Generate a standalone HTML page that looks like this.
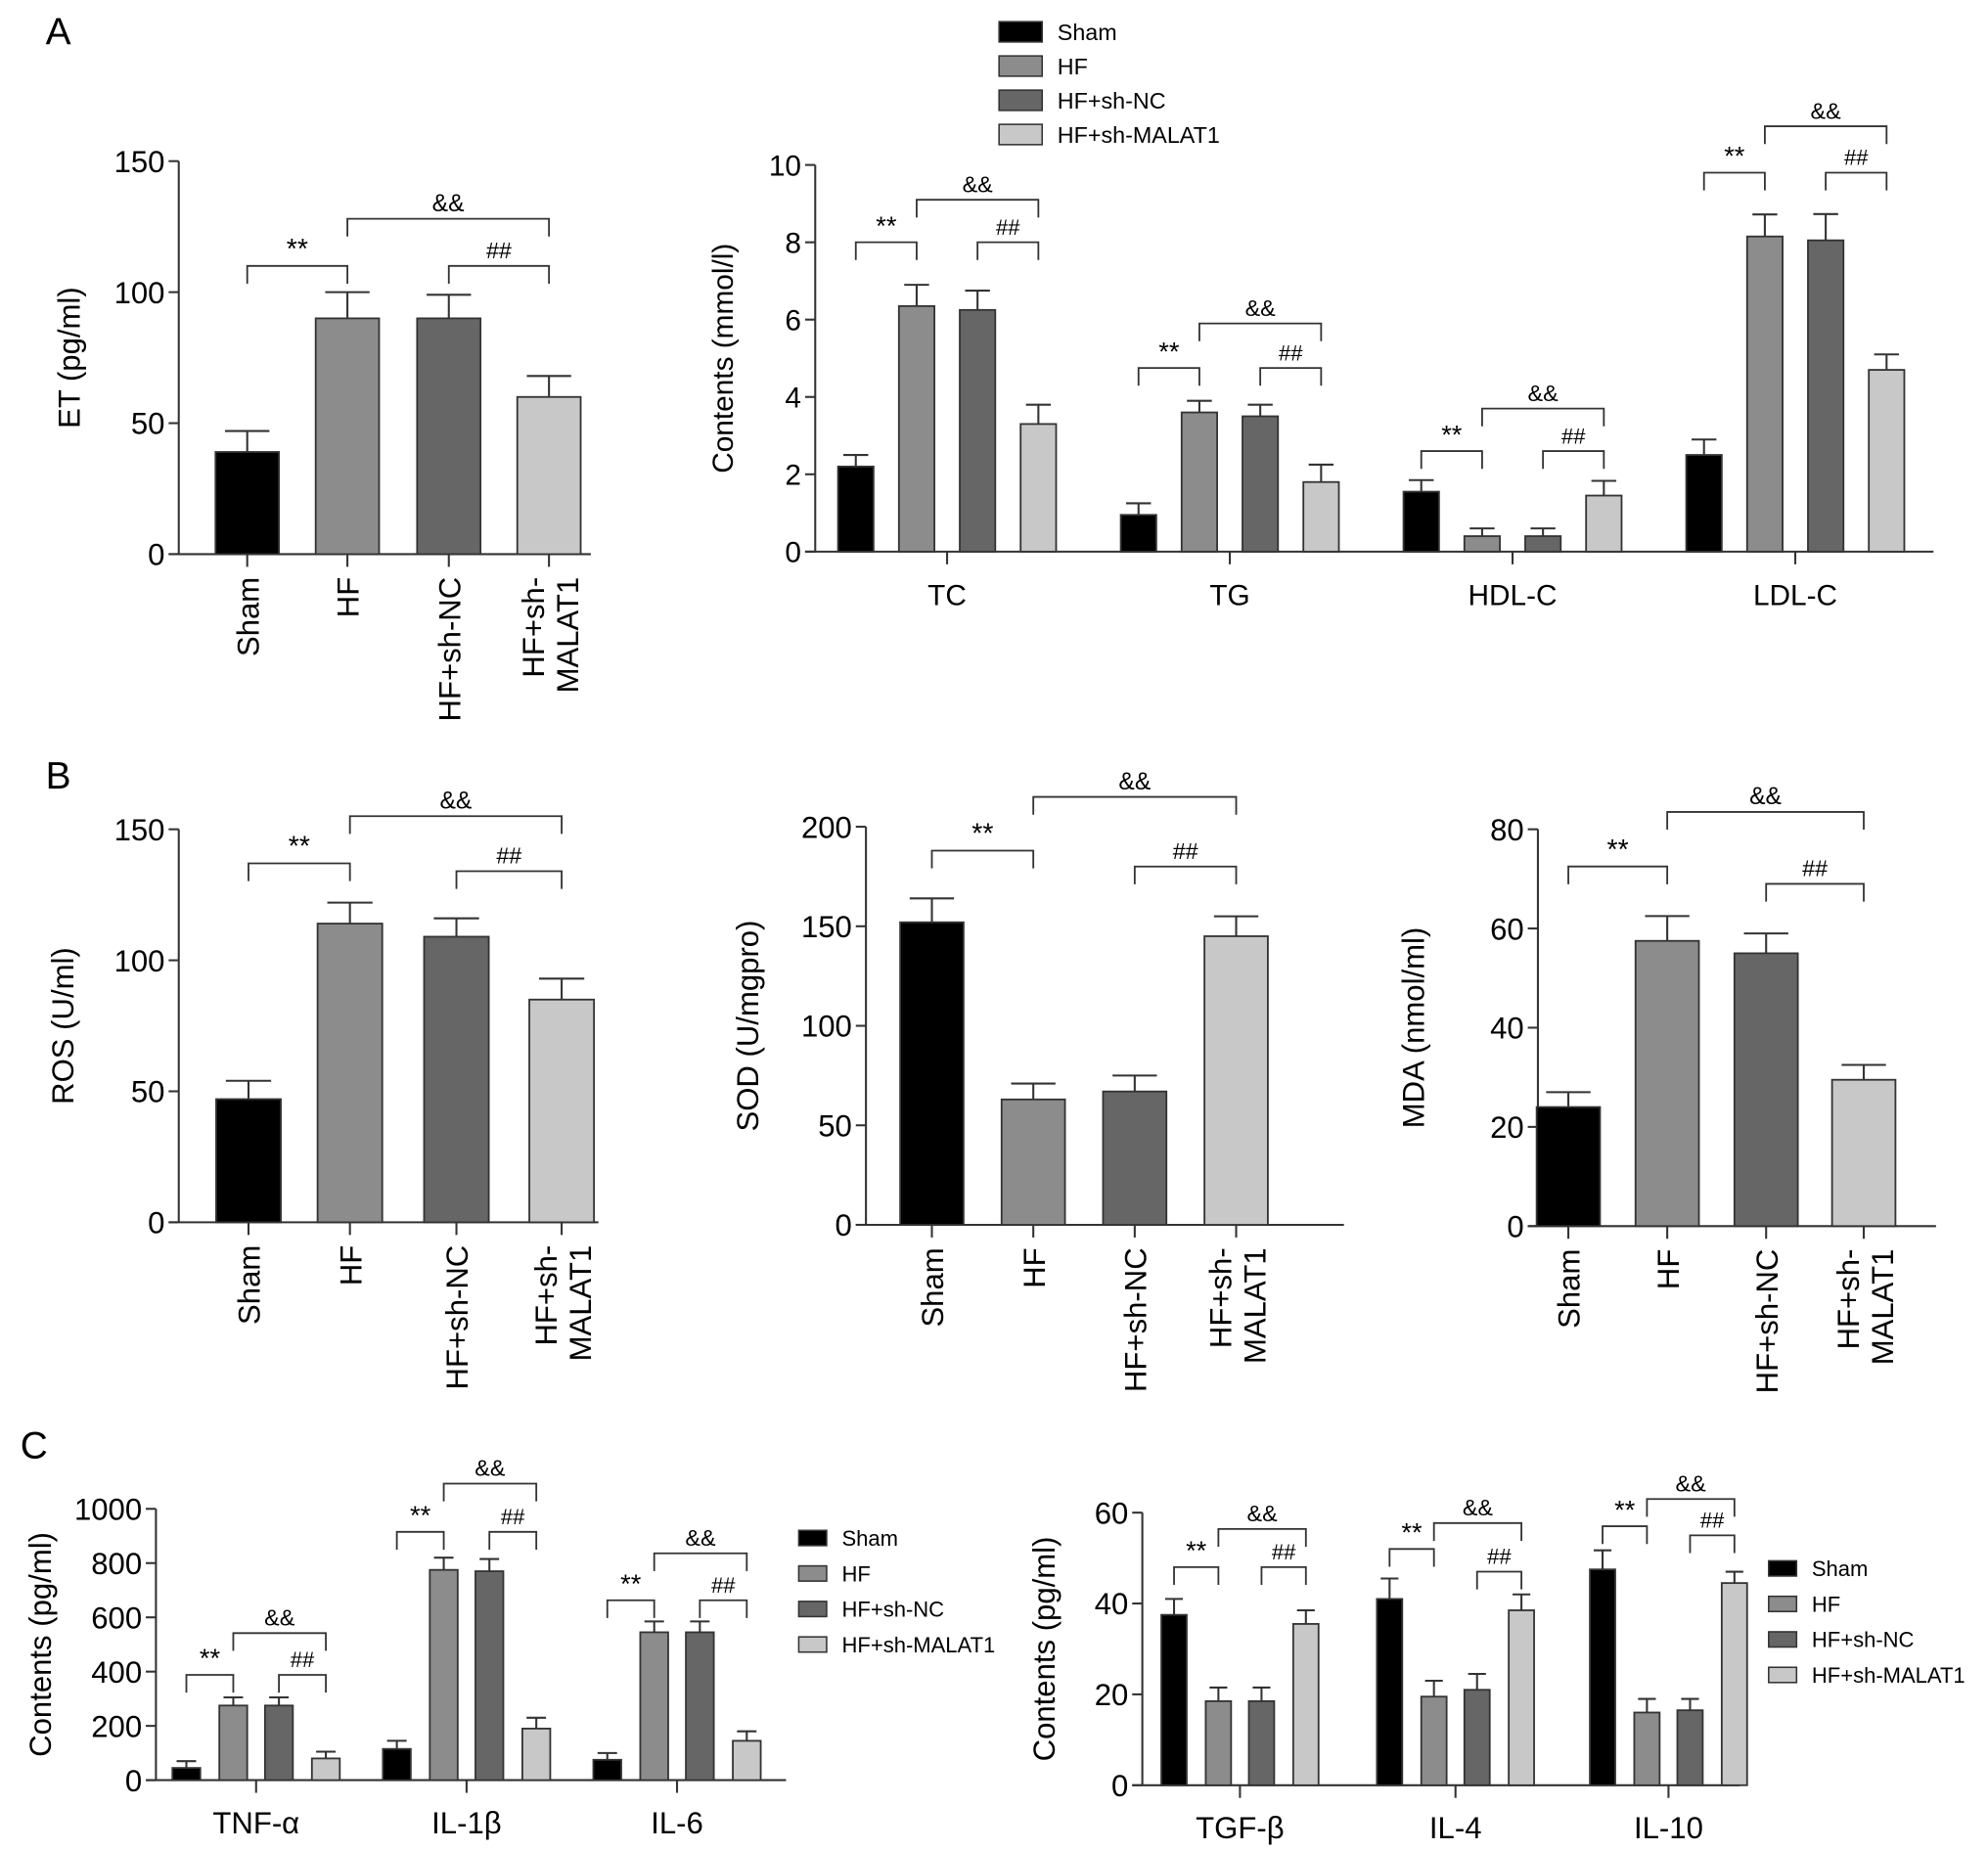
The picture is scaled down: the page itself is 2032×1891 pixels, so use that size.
<!DOCTYPE html>
<html><head><meta charset="utf-8"><style>
html,body{margin:0;padding:0;background:#fff}
svg{display:block;font-family:"Liberation Sans",Arial,sans-serif}
</style></head><body>
<svg id="fig" width="2032" height="1891" viewBox="0 0 1568 1459" xmlns="http://www.w3.org/2000/svg">
<text x="36" y="35" font-size="30">A</text>
<text x="36" y="622" font-size="30">B</text>
<text x="16" y="1150" font-size="30">C</text>
</svg>
<script>
// ---- data ----
const groupNames = ["Sham","HF","HF+sh-NC","HF+sh-MALAT1"];
const etValues = [39,90,90,60];
const etErrors = [8,10,9,8];
const lipidCats = ["TC","TG","HDL-C","LDL-C"];
const lipidSham = [2.2,0.95,1.55,2.5];
const lipidHF = [6.35,3.6,0.4,8.15];
const lipidNC = [6.25,3.5,0.4,8.05];
const lipidMAL = [3.3,1.8,1.45,4.7];
const lipidShamErr = [0.3,0.3,0.3,0.4];
const lipidHFErr = [0.55,0.3,0.2,0.57];
const lipidNCErr = [0.5,0.3,0.2,0.68];
const lipidMALErr = [0.5,0.45,0.38,0.4];
const lipidSig1 = [8.0,4.75,2.6,9.8];
const lipidSigHash = [8.0,4.75,2.6,9.8];
const lipidSig2 = [9.1,5.9,3.7,11.0];
const rosValues = [47,114,109,85];
const rosErrors = [7,8,7,8];
const sodValues = [152,63,67,145];
const sodErrors = [12,8,8,10];
const mdaValues = [24,57.5,55,29.5];
const mdaErrors = [3,5,4,3];
const cytoCats1 = ["TNF-α","IL-1β","IL-6"];
const cyto1Sham = [45,115,75];
const cyto1HF = [275,775,545];
const cyto1NC = [275,770,545];
const cyto1MAL = [80,190,145];
const cyto1ShamErr = [25,30,25];
const cyto1HFErr = [30,45,40];
const cyto1NCErr = [30,45,40];
const cyto1MALErr = [25,40,35];
const cyto1Sig1 = [388,915,663];
const cyto1SigHash = [388,915,663];
const cyto1Sig2 = [542,1093,836];
const cytoCats2 = ["TGF-β","IL-4","IL-10"];
const cyto2Sham = [37.5,41,47.5];
const cyto2HF = [18.5,19.5,16];
const cyto2NC = [18.5,21,16.5];
const cyto2MAL = [35.5,38.5,44.5];
const cyto2ShamErr = [3.5,4.5,4.2];
const cyto2HFErr = [3,3.5,3];
const cyto2NCErr = [3,3.5,2.5];
const cyto2MALErr = [3,3.5,2.5];
const cyto2Sig1 = [48,52,57];
const cyto2SigHash = [48,47,55];
const cyto2Sig2 = [56.4,57.7,63];
const etTicks = [0,50,100,150];
const lipidTicks = [0,2,4,6,8,10];
const rosTicks = [0,50,100,150];
const sodTicks = [0,50,100,150,200];
const mdaTicks = [0,20,40,60,80];
const cyto1Ticks = [0,200,400,600,800,1000];
const cyto2Ticks = [0,20,40,60];

const COLORS = ["#000000","#8c8c8c","#666666","#c8c8c8"];
const NS = "http://www.w3.org/2000/svg";
const svg = document.getElementById("fig");
function mk(tag, attrs, parent, txt){
  const e = document.createElementNS(NS, tag);
  for (const k in attrs) e.setAttribute(k, attrs[k]);
  if (txt !== undefined) e.textContent = txt;
  (parent||svg).appendChild(e);
  return e;
}
function axes(g, ax, y0, yTop, xEnd, vmax, ticks, fs, title, titleX){
  const ys = v => y0 - (y0 - yTop) * v / vmax;
  const yl = mk("line",{x1:ax,y1:yTop,x2:ax,y2:y0,stroke:"#333","stroke-width":1.6},g);
  
  
  const xl = mk("line",{x1:ax-8,y1:y0,x2:xEnd,y2:y0,stroke:"#333","stroke-width":1.6},g);
  
  
  ticks.forEach(t=>{
    mk("line",{x1:ax-8,y1:ys(t),x2:ax,y2:ys(t),stroke:"#333","stroke-width":1.6},g);
    const tl = mk("text",{x:ax-11,y:ys(t)+fs*0.36,"font-size":fs,"text-anchor":"end"},g,String(t));
    
    
  });
  const tt = mk("text",{x:titleX,y:(y0+yTop)/2,"font-size":fs,"text-anchor":"middle",transform:`rotate(-90 ${titleX} ${(y0+yTop)/2})`},g,title);
  
  
  return ys;
}
function bar(g, cx, w, v, err, ys, y0, color){
  const capW = w*0.35;
  const top = ys(v+err);
  mk("line",{x1:cx,y1:ys(v),x2:cx,y2:top,stroke:"#333","stroke-width":1.6},g);
  mk("line",{x1:cx-capW,y1:top,x2:cx+capW,y2:top,stroke:"#333","stroke-width":1.6},g);
  const r = mk("rect",{x:cx-w/2,y:ys(v),width:w,height:y0-ys(v),fill:color,stroke:"#333","stroke-width":1.4},g);
  
  
}
function bracket(g, x1, x2, y, label, fs){
  mk("path",{d:`M${x1} ${y+14} V${y} H${x2} V${y+14}`,fill:"none",stroke:"#333","stroke-width":1.4},g);
  const t = mk("text",{x:(x1+x2)/2,y:y-6,"font-size":fs,"text-anchor":"middle"},g,label);
  
  
}
function legend(x, y, dy, sw, sh, fs, name){
  const g = mk("g",{});
  
  
  groupNames.forEach((n,i)=>{
    mk("rect",{x:x,y:y+i*dy,width:sw,height:sh,fill:COLORS[i],stroke:"#333","stroke-width":1.2},g);
    const t = mk("text",{x:x+sw+12,y:y+i*dy+sh*0.5+fs*0.36,"font-size":fs},g,n);
    
    
  });
}
function single(name, ax, y0, yTop, xEnd, vmax, ticks, title, titleX, centers, w, vals, errs, sig){
  const g = mk("g",{});
  
  
  const ys = axes(g, ax, y0, yTop, xEnd, vmax, ticks, 24, title, titleX);
  vals.forEach((v,i)=>{
    bar(g, centers[i], w, v, errs[i], ys, y0, COLORS[i]);
    mk("line",{x1:centers[i],y1:y0,x2:centers[i],y2:y0+10,stroke:"#333","stroke-width":1.6},g);
    const ty = y0+18;
    const lines = i===3 ? ["HF+sh-","MALAT1"] : [groupNames[i]];
    lines.forEach((ln,k)=>{
      const lx = centers[i] + 9 + (lines.length===2 ? (k===0?-13:14) : 0);
      const t = mk("text",{x:lx,y:ty,"font-size":24,"text-anchor":"end",transform:`rotate(-90 ${lx} ${ty})`},g,ln);
      
      
    });
  });
  bracket(g, centers[0], centers[1], ys(sig[0]), "**", 22);
  bracket(g, centers[2], centers[3], ys(sig[1]), "##", 18);
  bracket(g, centers[1], centers[3], ys(sig[2]), "&&", 19);
}
function grouped(name, ax, y0, yTop, xEnd, vmax, ticks, title, titleX, gc, offs, w, cats, series, errs, s1, sh, s2, fs){
  const g = mk("g",{});
  
  
  const ys = axes(g, ax, y0, yTop, xEnd, vmax, ticks, fs, title, titleX);
  cats.forEach((c,j)=>{
    const cx = gc[j];
    series.forEach((s,i)=> bar(g, cx+offs[i], w, s[j], errs[i][j], ys, y0, COLORS[i]));
    mk("line",{x1:cx,y1:y0,x2:cx,y2:y0+10,stroke:"#333","stroke-width":1.6},g);
    const t = mk("text",{x:cx,y:y0+42,"font-size":fs,"text-anchor":"middle"},g,c);
    
    
    bracket(g, cx+offs[0], cx+offs[1], ys(s1[j]), "**", 21);
    bracket(g, cx+offs[2], cx+offs[3], ys(sh[j]), "##", 17);
    bracket(g, cx+offs[1], cx+offs[3], ys(s2[j]), "&&", 18);
  });
}

single("et-chart",141,437,127,466,150,etTicks,"ET (pg/ml)",63,[195,274,354,433],50,etValues,etErrors,[110,110,128]);
grouped("lipid-chart",643,435,130,1525,10,lipidTicks,"Contents (mmol/l)",578,[747,970,1193,1416],[-72,-24,24,72],28,lipidCats,
  [lipidSham,lipidHF,lipidNC,lipidMAL],[lipidShamErr,lipidHFErr,lipidNCErr,lipidMALErr],lipidSig1,lipidSigHash,lipidSig2,23);
legend(788,17,27,34,16,18,"legend-a");

single("ros-chart",141,964,654,472,150,rosTicks,"ROS (U/ml)",58,[196,276,360,443],51,rosValues,rosErrors,[137,134,155]);
single("sod-chart",683,966,652,1060,200,sodTicks,"SOD (U/mgpro)",598,[735,815,895,975],50,sodValues,sodErrors,[188,180,215]);
single("mda-chart",1213,967,654,1527,80,mdaTicks,"MDA (nmol/ml)",1123,[1237,1315,1393,1470],50,mdaValues,mdaErrors,[72.5,69,83.5]);

grouped("cytokine-chart-1",123,1404,1190,620,1000,cyto1Ticks,"Contents (pg/ml)",40,[202,368,534],[-55,-18,18,55],22,cytoCats1,
  [cyto1Sham,cyto1HF,cyto1NC,cyto1MAL],[cyto1ShamErr,cyto1HFErr,cyto1NCErr,cyto1MALErr],cyto1Sig1,cyto1SigHash,cyto1Sig2,24);
legend(630,1207,28,22,12,17,"legend-c-left");
grouped("cytokine-chart-2",901,1408,1193,1372,60,cyto2Ticks,"Contents (pg/ml)",832,[978,1148,1316],[-52,-17,17,52],20,cytoCats2,
  [cyto2Sham,cyto2HF,cyto2NC,cyto2MAL],[cyto2ShamErr,cyto2HFErr,cyto2NCErr,cyto2MALErr],cyto2Sig1,cyto2SigHash,cyto2Sig2,24);
legend(1395,1231,28,22,12,17,"legend-c-right");
</script>
</body></html>
